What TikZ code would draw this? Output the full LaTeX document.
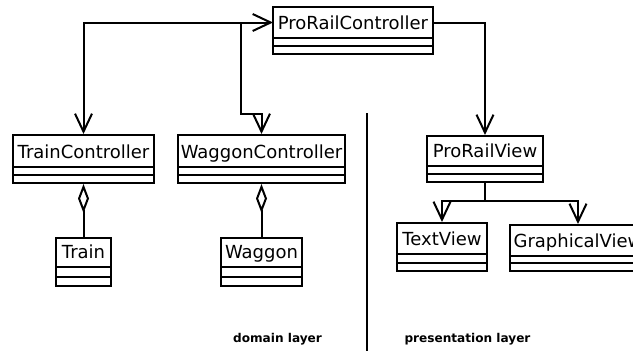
\documentclass[tikz,border=0pt]{standalone}
\usepackage{fontspec}
\setmainfont{DejaVu Sans}
\usetikzlibrary{arrows.meta,fit}

\newcommand\classfont{\fontsize{18}{20}\selectfont}
\newcommand\layerfont{\fontsize{12.1}{14}\selectfont\bfseries}

\tikzset{
  frame/.style={draw, line width=2pt},
  boxframe/.style={frame, inner sep=0pt, fit={#1}},
  title/.style={font=\classfont, inner sep=0pt, anchor=base},
  link/.style={line width=2pt},
  nav/.tip={Straight Barb[length=18pt, width=17pt, line width=2pt]},
  agg/.tip={Diamond[open, length=29pt, width=11pt, line width=2pt, fill=white]},
}

% #1 id, #2 name, #3 left, #4 right, #5 top, #6 first divider, #7 second divider, #8 bottom
\newcommand\umlclass[8]{%
  \node[boxframe={(#3,#5)(#4,#8)}] (#1) {};
  \node[title] (#1-t) at ({(#3+#4)/2},{#6-8.5}) {#2};
  \coordinate (#1-w) at (#3,{(#5+#6)/2});
  \coordinate (#1-e) at (#4,{(#5+#6)/2});
  \draw[frame] (#3,#6) -- (#4,#6) (#3,#7) -- (#4,#7);
}

\begin{document}
\begin{tikzpicture}[x=1pt, y=-1pt]
\useasboundingbox (0,0) rectangle (633,351);
\clip (0,0) rectangle (633,351);

% classes
\umlclass{prc}{ProRailController}{273}{433}{7}{38}{46}{54}
\umlclass{tc}{TrainController}{13}{154}{135}{167}{175}{183}
\umlclass{wc}{WaggonController}{178}{345}{135}{167}{175}{183}
\umlclass{train}{Train}{56}{111}{238}{267}{277}{286}
\umlclass{waggon}{Waggon}{221}{302}{238}{267}{277}{286}
\umlclass{prv}{ProRailView}{427}{543}{136}{166}{174}{182}
\umlclass{tv}{TextView}{397}{487}{223}{254}{263}{271}
\umlclass{gv}{GraphicalView}{510}{646}{225}{256}{263}{271}

% associations
\draw[link, nav-nav] (tc.north) |- (prc-w);
\coordinate (wjoin) at (241,23);
\coordinate (wbend) at (241,114);
\draw[link, -nav] (wjoin) -- (wbend) -| (wc.north);
\draw[link, -nav] (prc-e) -| (prv.north);

% generalisation fork
\coordinate (fork) at (prv.south |- 0,201);
\draw[link] (prv.south) -- (fork);
\draw[link, -nav] (fork) -| (tv.north);
\draw[link, -nav] (fork) -| (gv.north);

% aggregations
\draw[link, agg-] (tc.south) -- (train.north);
\draw[link, agg-] (wc.south) -- (waggon.north);

% layer separator and labels
\draw[line width=2pt] (367,113) -- (367,351);
\node[font=\layerfont, inner sep=0pt, anchor=base] (dom) at (277.5,342) {domain layer};
\node[font=\layerfont, inner sep=0pt, anchor=base] (pres) at (467.5,342) {presentation layer};
\end{tikzpicture}
\end{document}
